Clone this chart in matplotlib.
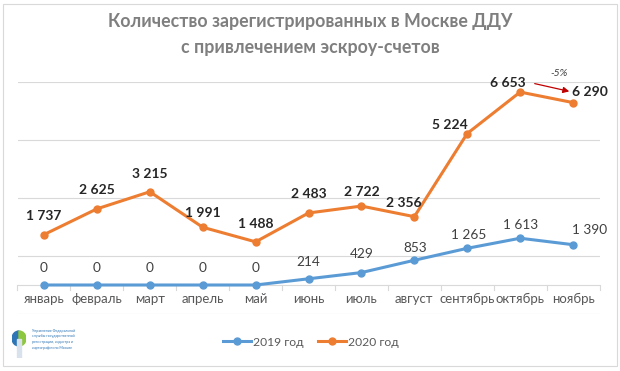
import matplotlib
matplotlib.use("Agg")
import matplotlib.pyplot as plt
from matplotlib.patches import Rectangle, Wedge, FancyArrowPatch

months = ["январь", "февраль", "март", "апрель", "май", "июнь", "июль",
          "август", "сентябрь", "октябрь", "ноябрь"]
y2019 = [0, 0, 0, 0, 0, 214, 429, 853, 1265, 1613, 1390]
y2020 = [1737, 2625, 3215, 1991, 1488, 2483, 2722, 2356, 5224, 6653, 6290]
series_names = ["2019 год", "2020 год"]
title = "Количество зарегистрированных в Москве ДДУ\nс привлечением эскроу-счетов"
change_label = "-5%"

# label offsets in pixels (dx, dy upward) — styling only
off2019 = [(0, 17)] * 5 + [(0, 17), (0, 19), (1, 12), (1, 13), (0, 13), (17, 15)]
off2020 = [(0, 19), (0, 19), (0, 18), (0, 14), (0, 18), (0, 19), (0, 14),
           (-11, 14), (-17, 9), (-12, 9), (17, 11)]

def fmt(v):
    return f"{v:,}".replace(",", " ")

plt.rcParams['font.family'] = ['Lato', 'DejaVu Sans']
W, H = 620, 371
PT = 0.72
fig = plt.figure(figsize=(W/100, H/100), dpi=100)
fig.patch.set_facecolor("white")
fig.patches.append(Rectangle((3/W, 5/H), 614/W, 362/H, transform=fig.transFigure,
                             fill=False, edgecolor="#d9d9d9", linewidth=0.8))

ax = fig.add_axes([17.5/W, 57/H, 582/W, 232/H])
ax.set_xlim(-0.5, len(months) - 0.5)
ax.set_ylim(-1000, 7000)
for s in ax.spines.values():
    s.set_visible(False)
for g in [-1000, 1000, 3000, 5000, 7000]:
    ax.axhline(g, color="#d9d9d9", linewidth=0.8, zorder=0)
ax.axhline(0, color="#d9d9d9", linewidth=0.8, zorder=0)
ax.set_yticks([])
ax.set_xticks([])
x = list(range(len(months)))
for b in range(len(months) + 1):
    ax.annotate("", (b - 0.5, 0), xytext=(b - 0.5, 0), textcoords="data")
    ax.plot([b - 0.5, b - 0.5], [0, -170], color="#d9d9d9", linewidth=0.8, zorder=0, clip_on=False)
for i, m in enumerate(months):
    ax.annotate(m, (i, 0), xytext=(0, -6), textcoords="offset points",
                ha="center", va="top", fontsize=9.5, color="#595959")

blue = "#5B9BD5"
orange = "#ED7D31"
ax.plot(x, y2019, color=blue, linewidth=2.2, marker="o", markersize=5, label=series_names[0], zorder=3)
ax.plot(x, y2020, color=orange, linewidth=2.2, marker="o", markersize=5, label=series_names[1], zorder=3)

for i, v in enumerate(y2019):
    dx, dy = off2019[i]
    ax.annotate(fmt(v), (i, v), xytext=(dx * PT, dy * PT), textcoords="offset points",
                ha="center", va="center", fontsize=9.8, color="#404040")
for i, v in enumerate(y2020):
    dx, dy = off2020[i]
    ax.annotate(fmt(v), (i, v), xytext=(dx * PT, dy * PT), textcoords="offset points",
                ha="center", va="center", fontsize=10, color="#262626", fontweight="bold")

arr = FancyArrowPatch((532/W, (H-83)/H), (572/W, (H-92)/H), transform=fig.transFigure,
                      arrowstyle="-|>", mutation_scale=9, color="#C00000", linewidth=0.9)
fig.patches.append(arr)
fig.text(559/W, (H-74)/H, change_label, ha="center", va="center", fontsize=7.5,
         style="italic", color="#404040")

fig.text(310/W, (H-22)/H, title.split("\n")[0], ha="center", va="center",
         fontsize=12.8, fontweight="bold", color="#7f7f7f")
fig.text(310/W, (H-47)/H, title.split("\n")[1], ha="center", va="center",
         fontsize=12.8, fontweight="bold", color="#7f7f7f")

leg = fig.legend(loc="center", bbox_to_anchor=(311/W, (H-342)/H), ncol=2, frameon=False,
                 fontsize=8.7, handlelength=2.3, columnspacing=1.2, handletextpad=0.2)
for t in leg.get_texts():
    t.set_color("#595959")

lax = fig.add_axes([12/W, (H-358)/H, 14/W, 30/H])
lax.set_xlim(0, 1); lax.set_ylim(0, 2)
lax.axis("off")
lax.add_patch(Wedge((0.5, 1.3), 0.5, 90, 270, color="#2E75B6"))
lax.add_patch(Wedge((0.5, 1.3), 0.5, 270, 90, color="#8DC63F"))
lax.add_patch(Rectangle((0.35, 0.0), 0.3, 1.3, color="#d9e2ec"))
logo_lines = ["Управление Федеральной", "службы государственной",
              "регистрации, кадастра и", "картографии по Москве"]
for k, line in enumerate(logo_lines):
    fig.text(32/W, (H-(331 + k*5.5))/H, line, fontsize=2.6, color="#2E75B6",
             ha="left", va="center")

fig.savefig("out.png", dpi=100)
